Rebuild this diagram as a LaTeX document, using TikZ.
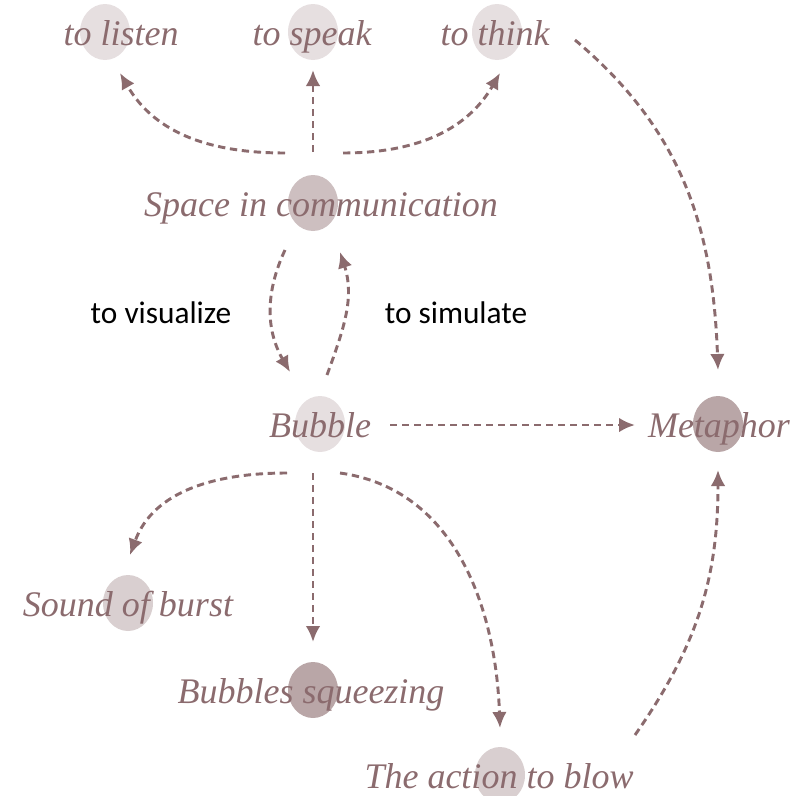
\documentclass[tikz,border=0pt]{standalone}
\usepackage{fontspec}
\newfontfamily\conceptfont{Liberation Serif}
\newfontfamily\labelfont{Carlito}
\usetikzlibrary{
  arrows.meta,
  backgrounds,
  calc
}
\definecolor{mauve}{HTML}{8B6B6E}
\definecolor{disc light}{HTML}{E6DFE0}
\definecolor{disc soft}{HTML}{D9CFD0}
\definecolor{disc mid}{HTML}{CDBFC0}
\definecolor{disc deep}{HTML}{B9A6A7}
\tikzset{
  % For the italic concept words.
  concept/.style={
    anchor=base,
    inner sep=0pt,
    text=mauve,
    font=\conceptfont\itshape\fontsize{27pt}{30pt}\selectfont},
%
  % For the plain labels beside the loop.
  relation/.style={
    anchor=base,
    inner sep=0pt,
    text=black,
    font=\labelfont\fontsize{23.5pt}{26pt}\selectfont},
%
  % For main curves.
  line/.style={
    line width=2.2pt,
    draw=mauve,
    dash pattern=on 5.5pt off 3.5pt},
%
  % For curves with one arrow.
  direction/.style={
    line,
    -{Latex[length=12pt,width=11pt]}}
}

\begin{document}
\begin{tikzpicture}[x=0.75pt, y=-0.75pt]
  \useasboundingbox (0,0) rectangle (791,796);

  \node[concept] (listen) at (121,45) {to listen};
  \node[concept] (speak) at (312,45) {to speak};
  \node[concept] (think) at (495,45) {to think};
  \node[concept] (space) at (321,216) {Space in communication};
  \node[concept] (bubble) at (320,437) {Bubble};
  \node[concept] (metaphor) at (719,437) {Metaphor};
  \node[concept] (burst) at (128,616) {Sound of burst};
  \node[concept] (squeeze) at (311,703) {Bubbles squeezing};
  \node[concept] (blow) at (499,788) {The action to blow};

  \node[relation] (visualize) at (161,323) {to visualize};
  \node[relation] (simulate) at (456,323) {to simulate};

  % discs behind the words
  \begin{scope}[on background layer]
    \foreach \n/\dx/\shade in {listen/-16/disc light, speak/1/disc light,
        think/2/disc light, space/-8/disc mid, bubble/0/disc light,
        metaphor/-1/disc deep, burst/0/disc soft, squeeze/2/disc deep,
        blow/1/disc soft}
      \fill[\shade] ($(\n.base)+(\dx,-13)$) ellipse [x radius=25, y radius=28];
  \end{scope}

  \draw[direction] ($(space.base)+(-36,-63)$)
                   to[out=180, in=-60] ($(listen.base)+(-1,28)$);
  \draw[direction] ($(space.base)+(-8,-64)$) -- ($(speak.base)+(1,25)$);
  \draw[direction] ($(space.base)+(22,-63)$)
                   to[out=0, in=-120] ($(think.base)+(5,28)$);

  \draw[direction] ($(think.base)+(80,-5)$)
                   to[out=-40, in=92] ($(metaphor.base)+(-1,-67)$);

  \draw[direction] ($(space.base)+(-36,34)$)
                   to[out=-115, in=120] ($(bubble.base)+(-30,-65)$);
  \draw[direction] ($(bubble.base)+(7,-62)$)
                   to[out=70, in=-72] ($(space.base)+(19,36)$);

  \draw[direction] ($(bubble.base)+(70,-12)$) -- ($(metaphor.base)+(-84,-12)$);

  \draw[direction] ($(bubble.base)+(-33,36)$)
                   to[out=180, in=70] ($(burst.base)+(2,-61)$);
  \draw[direction] ($(bubble.base)+(-7,36)$) -- ($(squeeze.base)+(2,-61)$);
  \draw[direction] ($(bubble.base)+(20,36)$)
                   to[out=-8, in=92] ($(blow.base)+(1,-60)$);

  \draw[direction] ($(blow.base)+(136,-53)$)
                   to[out=55, in=-90] ($(metaphor.base)+(-1,33)$);
\end{tikzpicture}
\end{document}
